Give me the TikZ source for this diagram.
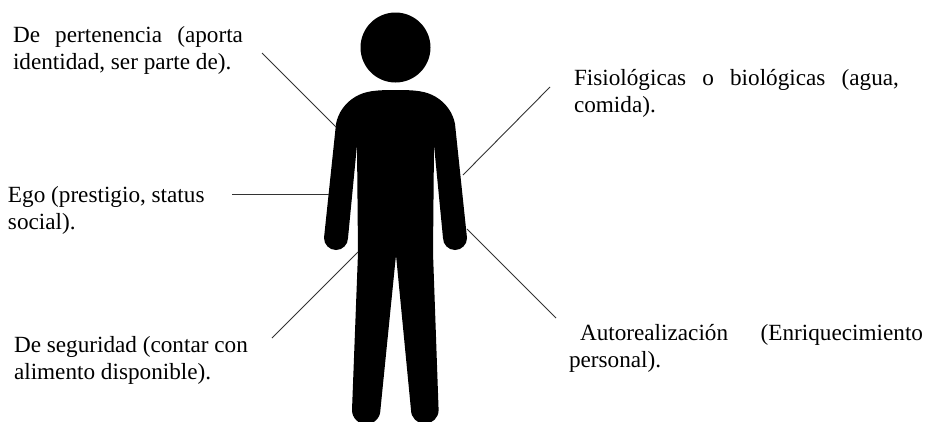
\documentclass[tikz,border=0pt]{standalone}
\usepackage{fontspec}
\setmainfont{Liberation Serif}
\tikzset{
  lbl/.style={anchor=north west,inner sep=0pt,outer sep=0pt,align=left,font=\fontsize{23.2}{27.2}\selectfont},
  conn/.style={draw=black!80,line width=0.9pt},
}
\newcommand{\jline}[2]{\makebox[#1][s]{#2}}
\begin{document}
\begin{tikzpicture}[x=1pt,y=-1pt]
\useasboundingbox (0,0) rectangle (927,421);
\begin{scope}
\clip (0,0) rectangle (927,421);
\fill[black] (395.5,47.5) circle (35);
\fill[black]
  (396,90) .. controls (375,90) and (365,91) .. (355,97)
  .. controls (345,103) and (338,113) .. (336,124)
  -- (324,238) arc (180:0:12) -- (357,145) -- (358,253) -- (352,410)
  arc (180:0:14.2)
  -- (396,255) -- (411,410)
  arc (180:0:13.8)
  -- (433,253) -- (434,145) -- (443,238) arc (180:0:12)
  -- (455,124) .. controls (453,113) and (446,103) .. (436,97)
  .. controls (426,91) and (416,90) .. (396,90) -- cycle;
\end{scope}
\node[lbl] (a) at (13,26) {\jline{230pt}{De pertenencia (aporta}\\identidad, ser parte de).};
\node[lbl] (b) at (8,186) {Ego (prestigio, status\\social).};
\node[lbl] (c) at (14,336) {De seguridad (contar con\\alimento disponible).};
\node[lbl] (d) at (574,69) {\jline{325pt}{Fisiológicas o biológicas (agua,}\\comida).};
\node[lbl] (e) at (569,324) {\hspace*{11pt}\jline{343pt}{Autorealización (Enriquecimiento}\\personal).};
\coordinate (a1) at (262,53); \coordinate (a2) at (336,127);
\coordinate (b1) at (232,194); \coordinate (b2) at (329,194);
\coordinate (c1) at (272,338); \coordinate (c2) at (358,252);
\coordinate (d1) at (550,87); \coordinate (d2) at (463,175);
\coordinate (e1) at (556,318); \coordinate (e2) at (467,229);
\draw[conn] (a1)--(a2);
\draw[conn] (b1)--(b2);
\draw[conn] (c1)--(c2);
\draw[conn] (d1)--(d2);
\draw[conn] (e1)--(e2);
\end{tikzpicture}
\end{document}
